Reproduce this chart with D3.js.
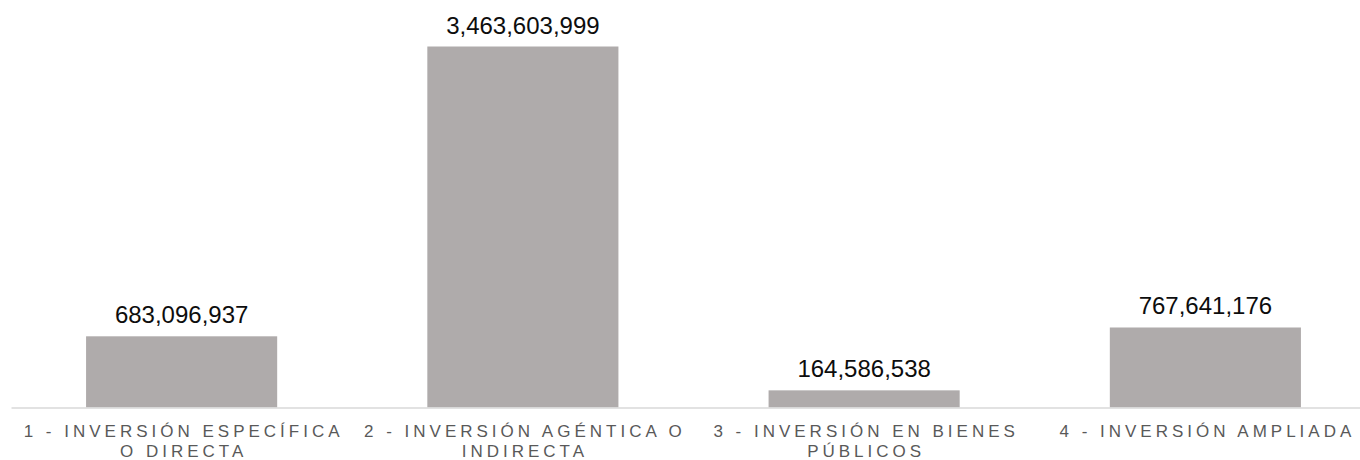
<!DOCTYPE html>
<html>
<head>
<meta charset="utf-8">
<script src="https://cdn.jsdelivr.net/npm/d3@7"></script>
<style>
  html, body { margin: 0; padding: 0; background: #ffffff; }
  svg { display: block; }
</style>
</head>
<body>
<svg id="chart" width="1360" height="460"></svg>
<script>
const categories = [
  "1 - INVERSIÓN ESPECÍFICA\nO DIRECTA",
  "2 - INVERSIÓN AGÉNTICA O\nINDIRECTA",
  "3 - INVERSIÓN EN BIENES\nPÚBLICOS",
  "4 - INVERSIÓN AMPLIADA"
];
const values = [683096937, 3463603999, 164586538, 767641176];

const svg = d3.select("#chart");
const baseline = 407.5;

const x = d3.scaleBand()
  .domain(categories)
  .range([11, 1376])
  .paddingInner(0.44)
  .paddingOuter(0.22);

const y = d3.scaleLinear()
  .domain([0, d3.max(values)])
  .range([baseline, 46.5]);

const data = categories.map((c, i) => ({ c, v: values[i] }));

svg.append("g").selectAll("rect")
  .data(data)
  .join("rect")
  .attr("x", d => x(d.c))
  .attr("width", x.bandwidth())
  .attr("y", d => y(d.v))
  .attr("height", d => y(0) - y(d.v))
  .attr("fill", "#AFABAB");

// axis baseline
const xAxis = d3.axisBottom(x).tickSize(0).tickFormat("");
const ax = svg.append("g").attr("transform", `translate(0,${baseline})`).call(xAxis);
ax.select(".domain").attr("stroke", "#D9D9D9").attr("stroke-width", 1.5);

// value labels
const fmt = d3.format(",");
svg.append("g").selectAll("text")
  .data(data)
  .join("text")
  .attr("x", d => x(d.c) + x.bandwidth() / 2)
  .attr("y", d => y(d.v) - 13)
  .attr("text-anchor", "middle")
  .attr("font-family", "Liberation Sans, Arial, sans-serif")
  .attr("font-size", 24)
  .attr("fill", "#0D0D0D")
  .text(d => fmt(d.v));

// category labels
const ls = 4;
const cat = svg.append("g").selectAll("text")
  .data(data)
  .join("text")
  .attr("text-anchor", "middle")
  .attr("font-family", "Liberation Sans, Arial, sans-serif")
  .attr("font-size", 17)
  .attr("letter-spacing", ls)
  .attr("fill", "#595959");
cat.each(function(d) {
  const lines = d.c.split("\n");
  const t = d3.select(this);
  lines.forEach((ln, i) => {
    t.append("tspan")
      .attr("x", x(d.c) + x.bandwidth() / 2 + ls / 2)
      .attr("y", 437 + i * 20)
      .text(ln);
  });
});
</script>
</body>
</html>
